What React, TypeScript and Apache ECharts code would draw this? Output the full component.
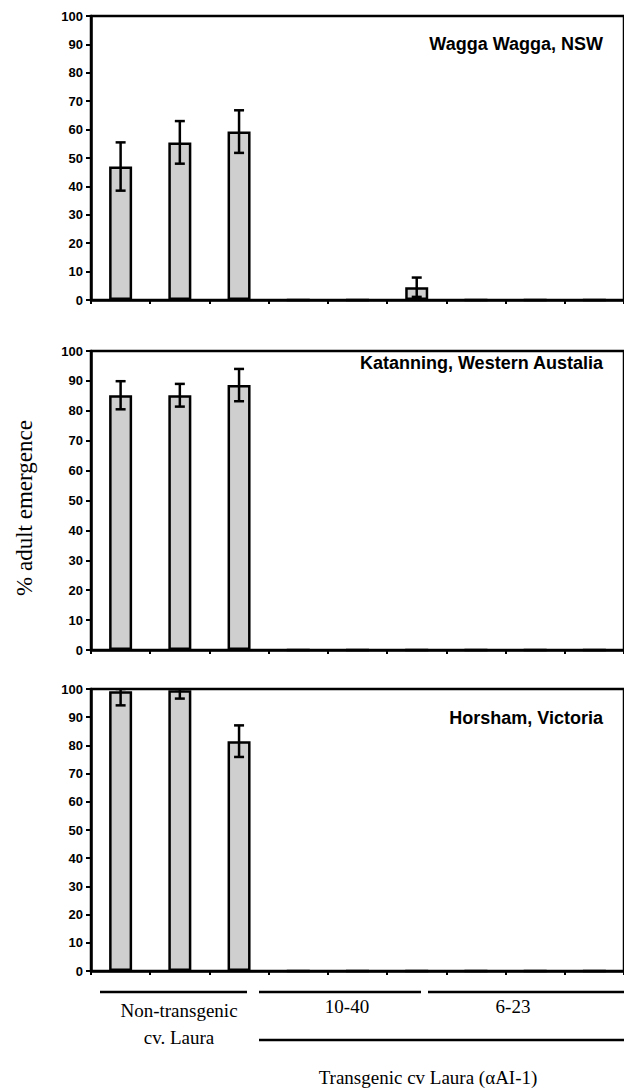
import React, { useEffect, useRef } from "react";
import * as echarts from "echarts";

const categories = ["N1", "N2", "N3", "A1", "A2", "A3", "B1", "B2", "B3"];
const yTicks = { min: 0, max: 100, interval: 10 };

const panelTitles = ["Wagga Wagga, NSW", "Katanning, Western Austalia", "Horsham, Victoria"];

const waggaValues = [47, 55.5, 59.3, 0, 0, 4.5, 0, 0, 0];
const waggaErrors = [8.5, 7.5, 7.5, 0, 0, 3.4, 0, 0, 0];

const katanningValues = [85.2, 85.2, 88.6, 0, 0, 0, 0, 0, 0];
const katanningErrors = [4.7, 3.8, 5.4, 0, 0, 0, 0, 0, 0];

const horshamValues = [99.2, 99.6, 81.5, 0, 0, 0, 0, 0, 0];
const horshamErrors = [5, 3, 5.6, 0, 0, 0, 0, 0, 0];

const yAxisTitle = "% adult emergence";
const groupLabels = ["Non-transgenic", "cv. Laura", "10-40", "6-23", "Transgenic cv Laura (\u03b1AI-1)"];

const panels = [
  { values: waggaValues, errors: waggaErrors, top: 16, height: 284, titleY: 44 },
  { values: katanningValues, errors: katanningErrors, top: 351, height: 299, titleY: 363 },
  { values: horshamValues, errors: horshamErrors, top: 689, height: 282, titleY: 718 },
];

const SANS = "'Liberation Sans', Arial, sans-serif";
const SERIF = "'Liberation Serif', 'Times New Roman', serif";

export default function App() {
  const ref = useRef<HTMLDivElement>(null);

  useEffect(() => {
    if (!ref.current) return;
    const chart = echarts.init(ref.current, null, { renderer: "svg" });

    const grids = panels.map((p) => ({
      left: 91,
      top: p.top,
      width: 540,
      height: p.height,
      show: true,
      borderColor: "#000",
      borderWidth: 2.5,
      backgroundColor: "transparent",
    }));

    const xAxes = panels.map((_, i) => ({
      type: "category",
      gridIndex: i,
      data: categories,
      boundaryGap: true,
      axisLine: { lineStyle: { color: "#000", width: 2.5 } },
      axisTick: { show: true, length: 4, lineStyle: { color: "#000", width: 2 } },
      axisLabel: { show: false },
      splitLine: { show: false },
    }));

    const yAxes = panels.map((_, i) => ({
      type: "value",
      gridIndex: i,
      min: yTicks.min,
      max: yTicks.max,
      interval: yTicks.interval,
      axisLine: { show: true, lineStyle: { color: "#000", width: 2.5 } },
      axisTick: { show: true, length: 5, lineStyle: { color: "#000", width: 2 } },
      axisLabel: {
        color: "#000",
        fontFamily: SANS,
        fontWeight: 700,
        fontSize: 13,
        margin: 8,
      },
      splitLine: { show: false },
    }));

    const series: any[] = [];
    panels.forEach((p, i) => {
      series.push({
        type: "bar",
        xAxisIndex: i,
        yAxisIndex: i,
        data: p.values,
        barWidth: 23,
        itemStyle: { color: "#cfcfcf", borderColor: "#000", borderWidth: 2.5 },
      });
      series.push({
        type: "custom",
        xAxisIndex: i,
        yAxisIndex: i,
        clip: true,
        data: p.values.map((v, k) => [k, v, p.errors[k]]),
        encode: { x: 0, y: 1 },
        z: 5,
        renderItem: (params: any, api: any) => {
          const idx = api.value(0);
          const val = api.value(1);
          const err = api.value(2);
          if (!err) return null;
          const hiV = Math.min(val + err, 100);
          const loV = Math.max(val - err, 0);
          const hi = api.coord([idx, hiV]);
          const lo = api.coord([idx, loV]);
          const cap = 5;
          const style = { stroke: "#000", lineWidth: 2.5 };
          return {
            type: "group",
            children: [
              { type: "line", shape: { x1: hi[0], y1: hi[1], x2: lo[0], y2: lo[1] }, style },
              { type: "line", shape: { x1: hi[0] - cap, y1: hi[1], x2: hi[0] + cap, y2: hi[1] }, style },
              { type: "line", shape: { x1: lo[0] - cap, y1: lo[1], x2: lo[0] + cap, y2: lo[1] }, style },
            ],
          };
        },
      });
    });

    const graphic: any[] = [];
    panels.forEach((p, i) => {
      graphic.push({
        type: "text",
        x: 603,
        y: p.titleY,
        style: {
          text: panelTitles[i],
          font: `bold 18px ${SANS}`,
          fill: "#000",
          align: "right",
          verticalAlign: "middle",
          textAlign: "right",
          textVerticalAlign: "middle",
        },
      });
    });

    graphic.push({
      type: "text",
      x: 24,
      y: 508,
      rotation: Math.PI / 2,
      style: {
        text: yAxisTitle,
        font: `23px ${SERIF}`,
        fill: "#000",
        align: "center",
        verticalAlign: "middle",
        textAlign: "center",
        textVerticalAlign: "middle",
      },
    });

    const lineStyle = { stroke: "#000", lineWidth: 2.5 };
    graphic.push({ type: "line", shape: { x1: 100, y1: 992, x2: 247, y2: 992 }, style: lineStyle });
    graphic.push({ type: "line", shape: { x1: 259, y1: 992, x2: 421, y2: 992 }, style: lineStyle });
    graphic.push({ type: "line", shape: { x1: 428, y1: 992, x2: 624, y2: 992 }, style: lineStyle });
    graphic.push({ type: "line", shape: { x1: 259, y1: 1040, x2: 624, y2: 1040 }, style: lineStyle });

    const labelPos = [
      [179, 1010],
      [179, 1037],
      [347, 1006],
      [513, 1006],
      [428, 1077],
    ];
    groupLabels.forEach((t, k) => {
      graphic.push({
        type: "text",
        x: labelPos[k][0],
        y: labelPos[k][1],
        style: {
          text: t,
          font: `19px ${SERIF}`,
          fill: "#000",
          align: "center",
          verticalAlign: "middle",
          textAlign: "center",
          textVerticalAlign: "middle",
        },
      });
    });

    chart.setOption({
      animation: false,
      backgroundColor: "#fff",
      grid: grids,
      xAxis: xAxes,
      yAxis: yAxes,
      series,
      graphic,
    });

    return () => chart.dispose();
  }, []);

  return (
    <div
      ref={ref}
      style={{ position: "absolute", left: 0, top: 0, width: 624, height: 1092, overflow: "hidden" }}
    />
  );
}
